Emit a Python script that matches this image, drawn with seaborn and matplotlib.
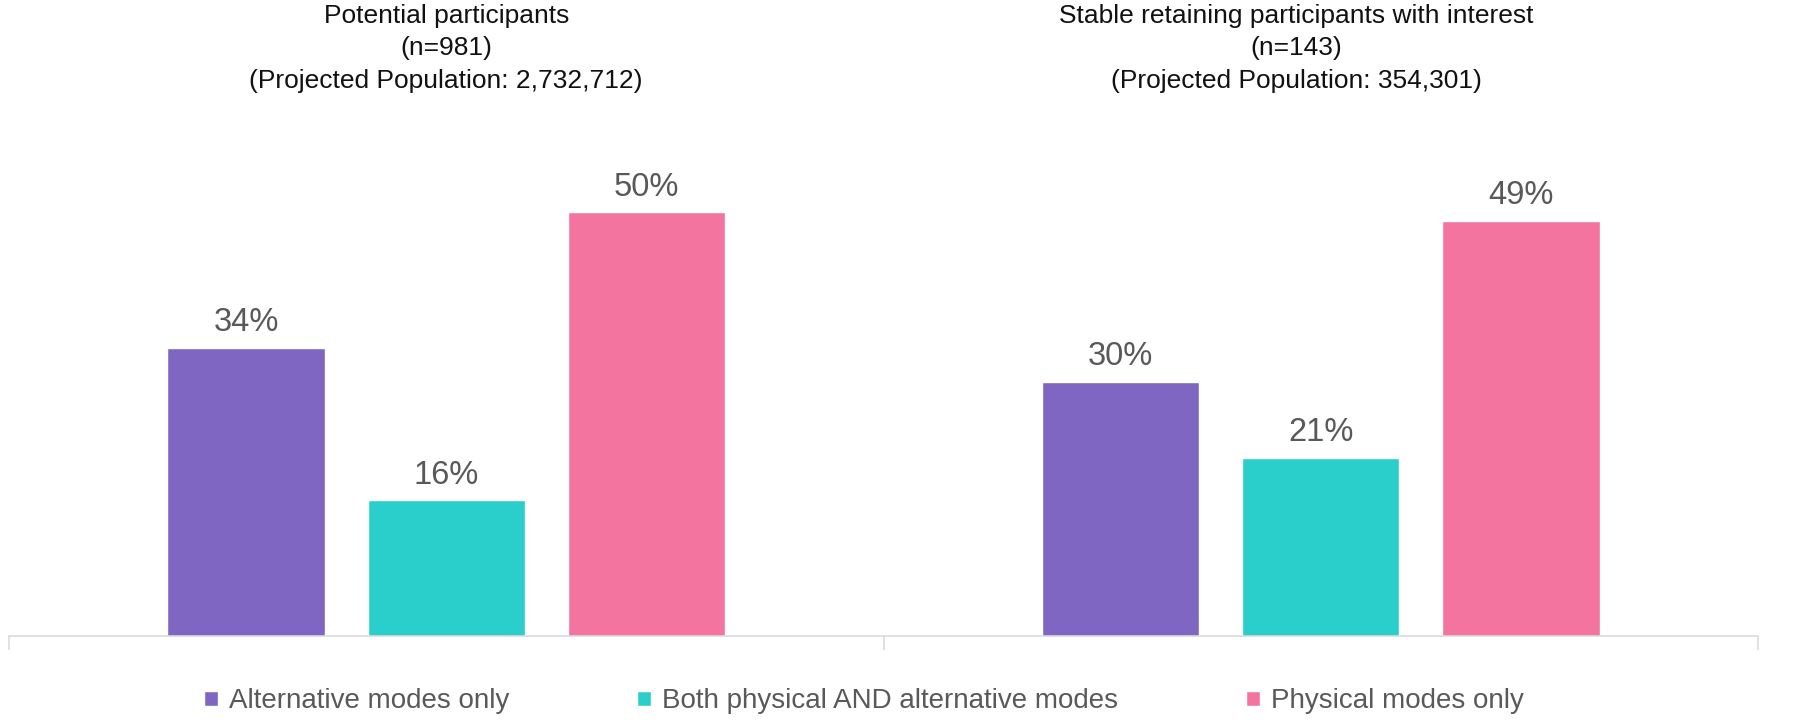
import pandas as pd
import seaborn as sns
import matplotlib.pyplot as plt
from matplotlib.transforms import blended_transform_factory

groups = ['Potential participants', 'Stable retaining participants with interest']
sample_sizes = ['981', '143']
projected = ['2,732,712', '354,301']
modes = ['Alternative modes only', 'Both physical AND alternative modes', 'Physical modes only']
potential = [34, 16, 50]
stable = [30, 21, 49]
colors = ['#7F66C2', '#2ACFCB', '#F474A0']

df = pd.DataFrame({
    'group': [groups[0]] * 3 + [groups[1]] * 3,
    'mode': modes * 2,
    'value': potential + stable,
})

sns.set_style('white')
plt.rcParams['font.family'] = ['Liberation Sans', 'DejaVu Sans']

fig = plt.figure(figsize=(17.93, 7.23), dpi=100)
ax = fig.add_axes([0.005, 0.1203, 0.9755, 0.703])

sns.barplot(data=df, x='group', y='value', hue='mode', palette=colors,
            width=0.687, gap=0.214, saturation=1, ax=ax)

for cont in ax.containers:
    ax.bar_label(cont, fmt='%d%%', padding=7, fontsize=23.5, color='#595959')

ax.set_ylim(0, 60)
ax.set_xlim(-0.5, 1.5)
ax.set_xlabel('')
ax.set_ylabel('')
ax.set_yticks([])
ax.set_xticks([])
ax.set_xticks([-0.5, 0.5, 1.5], minor=True)
ax.tick_params(axis='x', which='minor', length=10, width=1.1, color='#D9D9D9', bottom=True)
for side in ['top', 'left', 'right']:
    ax.spines[side].set_visible(False)
ax.spines['bottom'].set_color('#D9D9D9')
ax.spines['bottom'].set_linewidth(1.1)

# panel titles above each group
trans = blended_transform_factory(ax.transData, fig.transFigure)
title_x = [0, 0.972]
for i, g in enumerate(groups):
    ax.text(title_x[i], 0.995,
            f'{g}\n(n={sample_sizes[i]})\n(Projected Population: {projected[i]})',
            transform=trans, ha='center', va='top', fontsize=19,
            color='#111111', linespacing=1.45)

handles, labels = ax.get_legend_handles_labels()
ax.legend(handles, labels, loc='center', bbox_to_anchor=(0.482, 0.030),
          bbox_transform=fig.transFigure, ncol=3, frameon=False, fontsize=20,
          labelcolor='#595959', handlelength=0.5, handleheight=0.5,
          handletextpad=0.4, columnspacing=4.6)

plt.savefig('out.png', dpi=100)
